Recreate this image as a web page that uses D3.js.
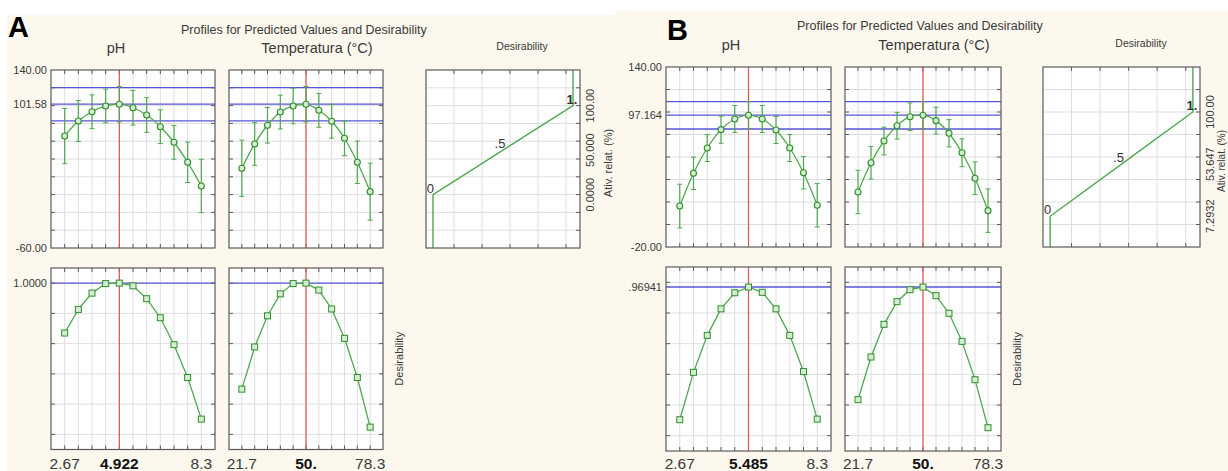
<!DOCTYPE html>
<html><head><meta charset="utf-8">
<script src="https://cdn.jsdelivr.net/npm/d3@7"></script>
<style>
body{margin:0;background:#fff;}
svg{display:block;font-family:"Liberation Sans",Arial,sans-serif;}
</style>
</head><body>
<svg id="c" width="1228" height="471"></svg>
<script>
// ---------------- DATA ----------------
const phLevels   = [2.67, 3.233, 3.796, 4.359, 4.922, 5.485, 6.048, 6.611, 7.174, 7.737, 8.3];
const tempLevels = [21.7, 27.36, 33.02, 38.68, 44.34, 50, 55.66, 61.32, 66.98, 72.64, 78.3];

// Panel A
const A_phPred   = [65.8, 82.7, 93.1, 99.6, 101.58, 97.6, 89.4, 76.3, 58.8, 36.3, 9.7];
const A_phErr    = [31, 23, 19, 19, 20, 19.5, 19.5, 19, 19, 22.7, 30];
const A_tempPred = [29.6, 56.9, 77.9, 92.8, 99.6, 101.58, 94.7, 82.4, 63.3, 36.3, 3.3];
const A_tempErr  = [31.6, 24, 20, 19, 20, 20, 19, 19, 19.5, 23.8, 32];
const A_phDes    = [0.670, 0.826, 0.934, 0.997, 1.0, 0.982, 0.897, 0.771, 0.593, 0.376, 0.101];
const A_tempDes  = [0.299, 0.578, 0.784, 0.929, 0.997, 1.0, 0.954, 0.829, 0.635, 0.376, 0.048];
const A_band     = [82.9, 101.58, 120.3];
const A_current  = [4.922, 50];
const A_curDes   = 1.0;
const A_yDomain  = [-60, 140];
const A_yLabels  = ["140.00", "101.58", "-60.00"];
const A_yLabelVals = [140, 101.58, -60];
const A_desLabel = "1.0000";
const A_phLabels   = ["2.67", "4.922", "8.3"];
const A_tempLabels = ["21.7", "50.", "78.3"];
const A_desFnVals  = [0, 50, 100];
const A_desFnLabels = ["0.0000", "50.000", "100.00"];

// Panel B
const B_phPred   = [16.4, 45.5, 68, 84.3, 93.8, 97.164, 93.8, 84, 68, 46, 17.1];
const B_phErr    = [19.4, 14.4, 12, 12.1, 12, 12, 12, 12, 12, 14.4, 19.3];
const B_tempPred = [28.9, 54.9, 74.2, 87.8, 95.8, 97.164, 92.3, 81.1, 63.8, 41.1, 12.3];
const B_tempErr  = [19.3, 14.5, 12.3, 11.9, 12.3, 12, 11.9, 12.1, 12.4, 14.5, 19.3];
const B_phDes    = [0.104, 0.413, 0.654, 0.827, 0.932, 0.969, 0.935, 0.827, 0.654, 0.418, 0.108];
const B_tempDes  = [0.235, 0.513, 0.726, 0.874, 0.952, 0.969, 0.913, 0.798, 0.615, 0.365, 0.052];
const B_band     = [84.9, 97.164, 109.3];
const B_current  = [5.485, 50];
const B_curDes   = 0.96941;
const B_yDomain  = [-20, 140];
const B_yLabels  = ["140.00", "97.164", "-20.00"];
const B_yLabelVals = [140, 97.164, -20];
const B_desLabel = ".96941";
const B_phLabels   = ["2.67", "5.485", "8.3"];
const B_tempLabels = ["21.7", "50.", "78.3"];
const B_desFnVals  = [7.2932, 53.647, 100];
const B_desFnLabels = ["7.2932", "53.647", "100.00"];

const desLevels = [0, 0.5, 1];
const desLevelLabels = ["0", ".5", "1."];

// ---------------- STYLE ----------------
const C = {bg:"#fcf8ed", frame:"#5a5a5a", grid:"#dedede", blue:"#5656d8", red:"#e05050",
           green:"#4fa84f", ptFill:"#d6ecd0", text:"#3a3a3a"};

const svg = d3.select("#c");

function drawPanel(cfg) {
  const L = cfg.L;
  const g = svg.append("g");
  g.append("rect").attr("x", L.bgX).attr("y", L.bgY).attr("width", L.bgW).attr("height", 471 - L.bgY).attr("fill", C.bg);

  g.append("text").attr("x", L.letterX).attr("y", L.letterY).attr("font-size", 29).attr("font-weight", "bold")
    .attr("fill", "#000").text(cfg.letter);
  g.append("text").attr("x", L.titleX).attr("y", L.titleY).attr("font-size", 12.5).attr("fill", C.text)
    .text("Profiles for Predicted Values and Desirability");
  g.append("text").attr("x", L.phTitleX).attr("y", L.colTitleY).attr("font-size", 14.5).attr("text-anchor", "middle").attr("fill", C.text).text("pH");
  g.append("text").attr("x", L.tTitleX).attr("y", L.colTitleY).attr("font-size", 14.5).attr("text-anchor", "middle").attr("fill", C.text).text("Temperatura (°C)");
  g.append("text").attr("x", L.dTitleX).attr("y", L.dTitleY).attr("font-size", 10.5).attr("text-anchor", "middle").attr("fill", C.text).text("Desirability");

  const yTop = d3.scaleLinear().domain(cfg.yDomain).range([L.top1, L.top0]);
  const yBot = d3.scaleLinear().domain([-0.1, 1.1]).range([L.bot1, L.bot0]);
  const yGridTop = d3.range(cfg.yDomain[0] + 20, cfg.yDomain[1], 20);
  const yGridBot = [0, 0.2, 0.4, 0.6, 0.8, 1.0];

  const factors = [
    {levels: phLevels, x0: L.ph0, x1: L.ph1, pred: cfg.phPred, err: cfg.phErr, des: cfg.phDes, cur: cfg.current[0], labels: cfg.phLabels},
    {levels: tempLevels, x0: L.t0, x1: L.t1, pred: cfg.tempPred, err: cfg.tempErr, des: cfg.tempDes, cur: cfg.current[1], labels: cfg.tempLabels}
  ];

  factors.forEach((f) => {
    const step = f.levels[1] - f.levels[0];
    const x = d3.scaleLinear().domain([f.levels[0] - step, f.levels[f.levels.length - 1] + step]).range([f.x0, f.x1]);

    [[yTop, L.top0, L.top1, yGridTop, f.pred, true], [yBot, L.bot0, L.bot1, yGridBot, f.des, false]].forEach(([y, ty0, ty1, ygrid, vals, isTop]) => {
      const p = g.append("g");
      p.append("rect").attr("x", f.x0).attr("y", ty0).attr("width", f.x1 - f.x0).attr("height", ty1 - ty0).attr("fill", "#fff");
      p.selectAll(".vg").data(f.levels).enter().append("line")
        .attr("x1", d => x(d)).attr("x2", d => x(d)).attr("y1", ty0).attr("y2", ty1).attr("stroke", C.grid);
      p.selectAll(".hg").data(ygrid).enter().append("line")
        .attr("x1", f.x0).attr("x2", f.x1).attr("y1", d => y(d)).attr("y2", d => y(d)).attr("stroke", C.grid);
      f.levels.forEach(d => {
        p.append("line").attr("x1", x(d)).attr("x2", x(d)).attr("y1", ty0).attr("y2", ty0 + 4).attr("stroke", C.frame);
        p.append("line").attr("x1", x(d)).attr("x2", x(d)).attr("y1", ty1).attr("y2", ty1 - 4).attr("stroke", C.frame);
      });
      ygrid.forEach(d => {
        p.append("line").attr("x1", f.x0).attr("x2", f.x0 + 4).attr("y1", y(d)).attr("y2", y(d)).attr("stroke", C.frame);
        p.append("line").attr("x1", f.x1).attr("x2", f.x1 - 4).attr("y1", y(d)).attr("y2", y(d)).attr("stroke", C.frame);
      });
      const blues = isTop ? cfg.band : [cfg.curDes];
      p.selectAll(".bl").data(blues).enter().append("line")
        .attr("x1", f.x0).attr("x2", f.x1).attr("y1", d => y(d)).attr("y2", d => y(d)).attr("stroke", C.blue).attr("stroke-width", 1.3);
      p.append("line").attr("x1", x(f.cur)).attr("x2", x(f.cur)).attr("y1", ty0).attr("y2", ty1).attr("stroke", C.red).attr("stroke-width", 1.2);

      const pts = f.levels.map((lv, i) => ({x: lv, y: vals[i], e: isTop ? f.err[i] : 0}));
      if (isTop) {
        pts.forEach(d => {
          p.append("line").attr("x1", x(d.x)).attr("x2", x(d.x)).attr("y1", y(d.y - d.e)).attr("y2", y(d.y + d.e)).attr("stroke", C.green).attr("stroke-width", 1.2);
          [d.y - d.e, d.y + d.e].forEach(v => p.append("line").attr("x1", x(d.x) - 2.5).attr("x2", x(d.x) + 2.5).attr("y1", y(v)).attr("y2", y(v)).attr("stroke", C.green).attr("stroke-width", 1));
        });
      }
      const line = d3.line().x(d => x(d.x)).y(d => y(d.y)).curve(isTop ? d3.curveCatmullRom : d3.curveLinear);
      p.append("path").attr("d", line(pts)).attr("fill", "none").attr("stroke", C.green).attr("stroke-width", 1.3);
      if (isTop) {
        p.selectAll(".pt").data(pts).enter().append("circle").attr("cx", d => x(d.x)).attr("cy", d => y(d.y)).attr("r", 3)
          .attr("fill", C.ptFill).attr("stroke", "#2f8f2f").attr("stroke-width", 1.1);
      } else {
        p.selectAll(".pt").data(pts).enter().append("rect").attr("x", d => x(d.x) - 3).attr("y", d => y(d.y) - 3)
          .attr("width", 6).attr("height", 6).attr("fill", C.ptFill).attr("stroke", "#2f8f2f").attr("stroke-width", 1);
      }
      p.append("rect").attr("x", f.x0).attr("y", ty0).attr("width", f.x1 - f.x0).attr("height", ty1 - ty0)
        .attr("fill", "none").attr("stroke", C.frame).attr("stroke-width", 1.2);
    });

    const xl = [f.levels[0], f.cur, f.levels[f.levels.length - 1]];
    xl.forEach((v, i) => {
      g.append("text").attr("x", x(v)).attr("y", L.xLabY).attr("text-anchor", "middle").attr("font-size", 15.5)
        .attr("font-weight", i === 1 ? "bold" : "normal").attr("fill", i === 1 ? "#111" : C.text).text(f.labels[i]);
    });
  });

  cfg.yLabelVals.forEach((v, i) => {
    g.append("text").attr("x", L.ph0 - 4).attr("y", yTop(v)).attr("dy", "0.35em").attr("text-anchor", "end")
      .attr("font-size", 11).attr("fill", C.text).text(cfg.yLabels[i]);
  });
  g.append("text").attr("x", L.ph0 - 4).attr("y", yBot(cfg.curDes)).attr("dy", "0.35em").attr("text-anchor", "end")
    .attr("font-size", 11).attr("fill", C.text).text(cfg.desLabel);
  g.append("text").attr("transform", `translate(${L.t1 + 20},${(L.bot0 + L.bot1) / 2}) rotate(-90)`)
    .attr("text-anchor", "middle").attr("font-size", 11).attr("fill", C.text).text("Desirability");

  const dx = d3.scaleLinear().domain([-0.05, 1.05]).range([L.d0, L.d1]);
  const dp = g.append("g");
  dp.append("rect").attr("x", L.d0).attr("y", L.top0).attr("width", L.d1 - L.d0).attr("height", L.top1 - L.top0).attr("fill", "#fff");
  const dGridX = [0.15, 0.35, 0.55, 0.75, 0.95];
  dp.selectAll(".vg").data(dGridX).enter().append("line").attr("x1", d => dx(d)).attr("x2", d => dx(d))
    .attr("y1", L.top0).attr("y2", L.top1).attr("stroke", C.grid);
  dp.selectAll(".hg").data(yGridTop).enter().append("line").attr("x1", L.d0).attr("x2", L.d1)
    .attr("y1", d => yTop(d)).attr("y2", d => yTop(d)).attr("stroke", C.grid);
  dGridX.forEach(d => {
    dp.append("line").attr("x1", dx(d)).attr("x2", dx(d)).attr("y1", L.top1).attr("y2", L.top1 - 4).attr("stroke", C.frame);
    dp.append("line").attr("x1", dx(d)).attr("x2", dx(d)).attr("y1", L.top0).attr("y2", L.top0 + 4).attr("stroke", C.frame);
  });
  yGridTop.forEach(d => {
    dp.append("line").attr("x1", L.d1).attr("x2", L.d1 - 4).attr("y1", yTop(d)).attr("y2", yTop(d)).attr("stroke", C.frame);
  });
  const fn = [{d: desLevels[0], v: cfg.yDomain[0]}].concat(desLevels.map((d, i) => ({d: d, v: cfg.desFnVals[i]})))
    .concat([{d: desLevels[2], v: cfg.yDomain[1]}]);
  dp.append("path").attr("d", d3.line().x(d => dx(d.d)).y(d => yTop(d.v))(fn)).attr("fill", "none")
    .attr("stroke", C.green).attr("stroke-width", 1.4);
  desLevels.forEach((d, i) => {
    dp.append("text").attr("x", dx(d) + (i === 0 ? 1 : (i === 1 ? -3 : -1))).attr("y", yTop(cfg.desFnVals[i]) - 2)
      .attr("text-anchor", i === 0 ? "end" : "middle").attr("font-size", 13).attr("fill", "#333")
      .attr("font-weight", i === 2 ? "bold" : "normal").text(desLevelLabels[i]);
  });
  dp.append("rect").attr("x", L.d0).attr("y", L.top0).attr("width", L.d1 - L.d0).attr("height", L.top1 - L.top0)
    .attr("fill", "none").attr("stroke", C.frame).attr("stroke-width", 1.2);
  cfg.desFnVals.forEach((v, i) => {
    g.append("text").attr("transform", `translate(${L.d1 + 14},${yTop(v)}) rotate(-90)`).attr("text-anchor", "middle")
      .attr("font-size", 11).attr("fill", C.text).text(cfg.desFnLabels[i]);
  });
  g.append("text").attr("transform", `translate(${L.aX},${(L.top0 + L.top1) / 2 + 4}) rotate(-90)`).attr("text-anchor", "middle")
    .attr("font-size", L.aFont).attr("fill", C.text).text("Ativ. relat. (%)");
}

drawPanel({
  letter: "A", yDomain: A_yDomain, phPred: A_phPred, phErr: A_phErr, tempPred: A_tempPred, tempErr: A_tempErr,
  phDes: A_phDes, tempDes: A_tempDes, band: A_band, current: A_current, curDes: A_curDes,
  yLabels: A_yLabels, yLabelVals: A_yLabelVals, desLabel: A_desLabel, phLabels: A_phLabels, tempLabels: A_tempLabels,
  desFnVals: A_desFnVals, desFnLabels: A_desFnLabels,
  L: {bgX: 7, bgY: 15, bgW: 608, letterX: 8, letterY: 37, titleX: 181, titleY: 34, phTitleX: 116, tTitleX: 317, colTitleY: 53,
      dTitleX: 522, dTitleY: 50, top0: 70, top1: 248, bot0: 268, bot1: 449.5, ph0: 51, ph1: 215, t0: 229, t1: 383,
      d0: 426, d1: 580, xLabY: 469, aX: 612, aFont: 11}
});
drawPanel({
  letter: "B", yDomain: B_yDomain, phPred: B_phPred, phErr: B_phErr, tempPred: B_tempPred, tempErr: B_tempErr,
  phDes: B_phDes, tempDes: B_tempDes, band: B_band, current: B_current, curDes: B_curDes,
  yLabels: B_yLabels, yLabelVals: B_yLabelVals, desLabel: B_desLabel, phLabels: B_phLabels, tempLabels: B_tempLabels,
  desFnVals: B_desFnVals, desFnLabels: B_desFnLabels,
  L: {bgX: 615, bgY: 11, bgW: 613, letterX: 667, letterY: 40, titleX: 797, titleY: 30, phTitleX: 731, tTitleX: 934, colTitleY: 50,
      dTitleX: 1141, dTitleY: 47, top0: 67, top1: 247, bot0: 267, bot1: 451, ph0: 666, ph1: 831, t0: 845, t1: 1001,
      d0: 1043, d1: 1200, xLabY: 469, aX: 1225, aFont: 10}
});
</script>
</body></html>
